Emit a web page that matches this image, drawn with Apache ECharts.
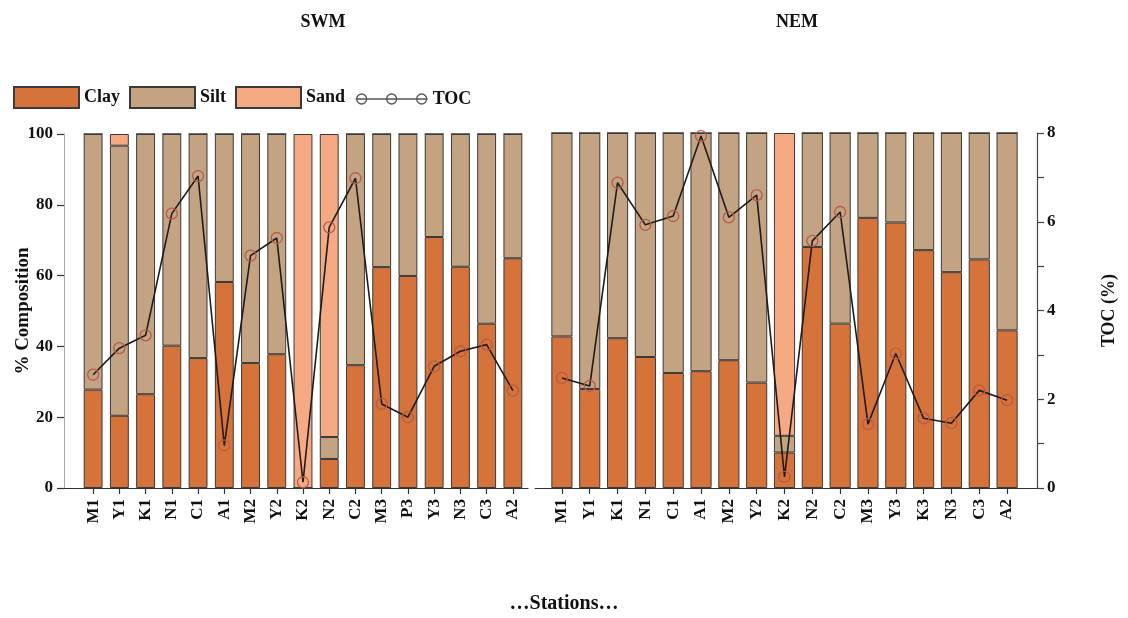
<!DOCTYPE html>
<html>
<head>
<meta charset="utf-8">
<script src="https://cdn.jsdelivr.net/npm/echarts@6/dist/echarts.min.js"></script>
<style>
html,body{margin:0;padding:0;background:#fff;}
#chart{width:1128px;height:618px;}
</style>
</head>
<body>
<div id="chart"></div>
<script>
// ---- Data ----
var swmStations = ['M1','Y1','K1','N1','C1','A1','M2','Y2','K2','N2','C2','M3','P3','Y3','N3','C3','A2'];
var swmClay = [27.8, 20.4, 26.5, 40.2, 36.7, 58.2, 35.3, 37.8, 0, 8.2, 34.7, 62.4, 59.9, 70.9, 62.5, 46.4, 64.9];
var swmSilt = [72.2, 76.3, 73.5, 59.8, 63.3, 41.8, 64.7, 62.2, 0, 6.2, 65.3, 37.6, 40.1, 29.1, 37.5, 53.6, 35.1];
var swmSand = [0, 3.3, 0, 0, 0, 0, 0, 0, 100, 85.6, 0, 0, 0, 0, 0, 0, 0];
var swmToc  = [2.56, 3.16, 3.45, 6.2, 7.05, 0.96, 5.25, 5.65, 0.13, 5.89, 7.0, 1.9, 1.6, 2.75, 3.09, 3.24, 2.2];

var nemStations = ['M1','Y1','K1','N1','C1','A1','M2','Y2','K2','N2','C2','M3','Y3','K3','N3','C3','A2'];
var nemClay = [42.7, 27.9, 42.2, 36.9, 32.4, 32.9, 36.0, 29.7, 10.0, 67.9, 46.3, 76.1, 74.8, 67.0, 60.8, 64.4, 44.4];
var nemSilt = [57.3, 72.1, 57.8, 63.1, 67.6, 67.1, 64.0, 70.3, 4.7, 32.1, 53.7, 23.9, 25.2, 33.0, 39.2, 35.6, 55.6];
var nemSand = [0, 0, 0, 0, 0, 0, 0, 0, 85.3, 0, 0, 0, 0, 0, 0, 0, 0];
var nemToc  = [2.48, 2.30, 6.88, 5.93, 6.13, 7.93, 6.10, 6.6, 0.25, 5.57, 6.22, 1.44, 3.03, 1.57, 1.46, 2.2, 1.98];

var pctTicks = {min: 0, max: 100, interval: 20};
var tocTicks = {min: 0, max: 8, interval: 1};

// ---- Style ----
var FONT = "'Liberation Serif','DejaVu Serif',serif";
var C_CLAY = '#D6733B', C_SILT = '#C4A383', C_SAND = '#F6AA84';
var BORDER = '#3a3a3a';
var TXT = '#111';

function barSeries(name, data, color, xi, yi, bw) {
  return {
    name: name, type: 'bar', stack: 'p' + xi, data: data,
    xAxisIndex: xi, yAxisIndex: yi, barWidth: bw,
    itemStyle: {color: color, borderColor: BORDER, borderWidth: 1},
    emphasis: {disabled: true}
  };
}
function tocSeries(data, xi, yi) {
  return {
    name: 'TOC', type: 'line', data: data, xAxisIndex: xi, yAxisIndex: yi, z: 5,
    symbol: 'circle', symbolSize: 11,
    itemStyle: {color: 'rgba(0,0,0,0)', borderColor: '#B85A45', borderWidth: 1.3},
    lineStyle: {color: '#1c1c1c', width: 1.6},
    emphasis: {disabled: true}
  };
}
function catAxis(gi, data) {
  return {
    type: 'category', gridIndex: gi, data: data,
    axisLine: {show: false},
    axisTick: {show: true, alignWithLabel: true, length: 6, lineStyle: {color: '#333', width: 1.2}},
    axisLabel: {rotate: 90, margin: 11, color: TXT, fontFamily: FONT, fontWeight: 'bold', fontSize: 17, interval: 0}
  };
}
function decoX(gi) {
  return {type: 'value', gridIndex: gi, min: 0, max: 1, axisLine: {show: true, lineStyle: {color: '#333', width: 1.2}},
          axisTick: {show: false}, axisLabel: {show: false}, splitLine: {show: false}};
}
function decoY(gi) {
  return {type: 'value', gridIndex: gi, min: 0, max: 1, show: false};
}

var option = {
  backgroundColor: '#fff',
  animation: false,
  title: [
    {text: 'SWM', left: 318, top: 8, textAlign: 'center', textStyle: {fontFamily: FONT, fontWeight: 'bold', fontSize: 18, color: TXT}},
    {text: 'NEM', left: 792, top: 8, textAlign: 'center', textStyle: {fontFamily: FONT, fontWeight: 'bold', fontSize: 18, color: TXT}},
    {text: '\u2026Stations\u2026', left: 559, top: 589, textAlign: 'center', textStyle: {fontFamily: FONT, fontWeight: 'bold', fontSize: 20, color: TXT}}
  ],
  legend: [
    {data: ['Clay', 'Silt', 'Sand'], icon: 'rect', left: 8, top: 81, itemWidth: 65, itemHeight: 21, itemGap: 9,
     selectedMode: false,
     textStyle: {fontFamily: FONT, fontWeight: 'bold', fontSize: 18, color: TXT}},
    {data: [{name: 'TOC',
             icon: 'path://M0,6L72,6M1,6A5,5,0,1,0,11,6A5,5,0,1,0,1,6M31,6A5,5,0,1,0,41,6A5,5,0,1,0,31,6M61,6A5,5,0,1,0,71,6A5,5,0,1,0,61,6',
             itemStyle: {color: 'rgba(0,0,0,0)', borderColor: '#555', borderWidth: 1.3}}],
     left: 350, top: 85, itemWidth: 72, itemHeight: 12, itemGap: 4, selectedMode: false,
     textStyle: {fontFamily: FONT, fontWeight: 'bold', fontSize: 18, color: TXT}}
  ],
  grid: [
    {left: 80, width: 446, top: 134, height: 354},
    {left: 548, width: 473, top: 133, height: 355},
    {left: 61, width: 467, top: 134, height: 354},
    {left: 535, width: 502, top: 133, height: 355}
  ],
  xAxis: [catAxis(0, swmStations), catAxis(1, nemStations), decoX(2), decoX(3)],
  yAxis: [
    {type: 'value', gridIndex: 0, min: pctTicks.min, max: pctTicks.max, interval: pctTicks.interval, offset: 16,
     name: '% Composition', nameLocation: 'middle', nameGap: 31, nameRotate: 90, nameMoveOverlap: false,
     nameTextStyle: {fontFamily: FONT, fontWeight: 'bold', fontSize: 19, color: TXT},
     axisLine: {show: true, lineStyle: {color: '#aaa', width: 1}},
     axisTick: {show: true, length: 7, lineStyle: {color: '#333', width: 1.2}},
     axisLabel: {margin: 11, color: TXT, fontFamily: FONT, fontWeight: 'bold', fontSize: 17},
     splitLine: {show: false}},
    {type: 'value', gridIndex: 0, min: tocTicks.min, max: tocTicks.max, show: false},
    {type: 'value', gridIndex: 1, min: pctTicks.min, max: pctTicks.max, show: false},
    {type: 'value', gridIndex: 1, position: 'right', min: tocTicks.min, max: tocTicks.max, interval: tocTicks.interval, offset: 16,
     name: 'TOC (%)', nameLocation: 'middle', nameGap: 63, nameRotate: 90, nameMoveOverlap: false,
     nameTextStyle: {fontFamily: FONT, fontWeight: 'bold', fontSize: 18, color: TXT},
     axisLine: {show: true, lineStyle: {color: '#444', width: 1.2}},
     axisTick: {show: true, length: 7, lineStyle: {color: '#444', width: 1.2}},
     axisLabel: {margin: 10, color: TXT, fontFamily: FONT, fontWeight: 'bold', fontSize: 17,
                 formatter: function (v) { return v % 2 === 0 ? String(v) : ''; }},
     splitLine: {show: false}},
    decoY(2), decoY(3)
  ],
  series: [
    barSeries('Clay', swmClay, C_CLAY, 0, 0, '72%'),
    barSeries('Silt', swmSilt, C_SILT, 0, 0, '72%'),
    barSeries('Sand', swmSand, C_SAND, 0, 0, '72%'),
    tocSeries(swmToc, 0, 1),
    barSeries('Clay', nemClay, C_CLAY, 1, 2, '76%'),
    barSeries('Silt', nemSilt, C_SILT, 1, 2, '76%'),
    barSeries('Sand', nemSand, C_SAND, 1, 2, '76%'),
    tocSeries(nemToc, 1, 3)
  ]
};

var chart = echarts.init(document.getElementById('chart'), null, {renderer: 'canvas'});
chart.setOption(option);
</script>
</body>
</html>
